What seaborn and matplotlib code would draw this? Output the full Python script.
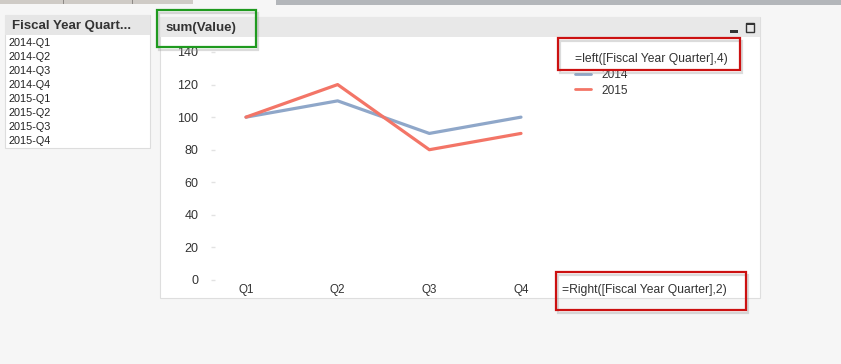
import matplotlib
matplotlib.use("Agg")
import matplotlib.pyplot as plt
from matplotlib.patches import Rectangle
import seaborn as sns
import pandas as pd

# ---- data ----
quarters = ["Q1", "Q2", "Q3", "Q4"]
years = ["2014", "2015"]
values_2014 = [100, 110, 90, 100]
values_2015 = [100, 120, 80, 90]
y_ticks = [0, 20, 40, 60, 80, 100, 120, 140]
list_items = ["2014-Q1", "2014-Q2", "2014-Q3", "2014-Q4",
              "2015-Q1", "2015-Q2", "2015-Q3", "2015-Q4"]
chart_title = "sum(Value)"
listbox_title = "Fiscal Year Quart..."
legend_title = "=left([Fiscal Year Quarter],4)"
x_label = "=Right([Fiscal Year Quarter],2)"

df = pd.DataFrame({
    "Quarter": quarters * 2,
    "Value": values_2014 + values_2015,
    "Year": [years[0]] * 4 + [years[1]] * 4,
})

sns.set_theme(style="white")
plt.rcParams["font.family"] = ["Liberation Sans", "DejaVu Sans"]

W, H = 841, 364
fig = plt.figure(figsize=(W / 100, H / 100), dpi=100)
fig.patch.set_facecolor("#f6f6f6")

def fx(x):
    return x / W

def fy(y):
    return 1 - y / H

# background / UI layer in pixel coordinates
bg = fig.add_axes([0, 0, 1, 1], zorder=0)
bg.set_xlim(0, W)
bg.set_ylim(H, 0)
bg.axis("off")

def rect(x0, y0, x1, y1, **kw):
    bg.add_patch(Rectangle((x0, y0), x1 - x0, y1 - y0, **kw))

# top tab strip
rect(0, 0, 193, 4, facecolor="#cfcbc6", edgecolor="none")
for sx in (63, 132):
    rect(sx, 0, sx + 1, 4, facecolor="#8e8a86", edgecolor="none")
rect(276, 0, 841, 5, facecolor="#b3b6ba", edgecolor="none")

# list box
rect(5, 15, 150, 148, facecolor="white", edgecolor="#dddddd", linewidth=0.8)
rect(5, 15, 150, 35, facecolor="#e6e6e6", edgecolor="none")
bg.text(12, 25.5, listbox_title, fontsize=9.5, fontweight="bold", color="#333333",
        va="center", ha="left")
for i, item in enumerate(list_items):
    bg.text(9, 43 + i * 14, item, fontsize=7.8, color="#222222", va="center", ha="left")

# chart panel
rect(160, 17, 760, 298, facecolor="white", edgecolor="#dedede", linewidth=0.8)
rect(160, 17, 760, 37, facecolor="#e8e8e8", edgecolor="none")
bg.text(166, 28, chart_title, fontsize=9.6, fontweight="bold", color="#333333",
        va="center", ha="left")
# minimize / maximize icons
rect(730, 30, 738, 32.5, facecolor="#333333", edgecolor="none")
rect(746, 23, 754, 32, facecolor="none", edgecolor="#333333", linewidth=1.0)
rect(746, 23, 754, 25, facecolor="#333333", edgecolor="none")

# ---- chart axes ----
left_px, right_px, top_px, bottom_px = 215, 555, 52, 280
ax = fig.add_axes([fx(left_px), fy(bottom_px), (right_px - left_px) / W,
                   (bottom_px - top_px) / H], zorder=1)
ax.patch.set_alpha(0)
palette = {"2014": "#8fa7c9", "2015": "#f37567"}
sns.lineplot(data=df, x="Quarter", y="Value", hue="Year", palette=palette,
             sort=False, linewidth=2.3, ax=ax)
ax.set_xlim(-0.338, 3.371)
ax.set_ylim(0, 140)
ax.set_yticks(y_ticks)
ax.set_xlabel("")
ax.set_ylabel("")
for s in ax.spines.values():
    s.set_visible(False)
ax.tick_params(axis="y", length=3, width=1, color="#e2e2e2", pad=9,
               labelsize=9, labelcolor="#333333", left=True)
ax.tick_params(axis="x", length=0, pad=3, labelsize=8.4, labelcolor="#333333")

handles, labels = ax.get_legend_handles_labels()
leg = ax.legend(handles, labels, title=legend_title, loc="upper left",
                bbox_to_anchor=(fx(575), fy(53)), bbox_transform=fig.transFigure,
                frameon=False, fontsize=8.6, title_fontsize=8.7,
                handlelength=1.35, handletextpad=0.85, labelspacing=0.32,
                borderpad=0, borderaxespad=0)
leg._legend_box.align = "left"
leg.get_title().set_color("#333333")
for t in leg.get_texts():
    t.set_color("#333333")
for ln in leg.get_lines():
    ln.set_linewidth(2.0)

fig.text(fx(562), fy(290), x_label, fontsize=8.7, color="#333333",
         va="center", ha="left")

# ---- annotation boxes overlay ----
ov = fig.add_axes([0, 0, 1, 1], zorder=3)
ov.set_xlim(0, W)
ov.set_ylim(H, 0)
ov.axis("off")
ov.patch.set_alpha(0)

def box(x0, y0, x1, y1, color):
    ov.add_patch(Rectangle((x0 + 2.5, y0 + 2.5), x1 - x0, y1 - y0, facecolor="none",
                           edgecolor="#9a9a9a", linewidth=1.6, alpha=0.35))
    ov.add_patch(Rectangle((x0, y0), x1 - x0, y1 - y0, facecolor="none",
                           edgecolor=color, linewidth=1.6))

box(157, 10, 256, 47, "#1f9a1f")
box(558, 38, 740, 70, "#cc1111")
box(556, 272, 746, 310, "#cc1111")

fig.savefig("out.png", dpi=100, facecolor=fig.get_facecolor())
